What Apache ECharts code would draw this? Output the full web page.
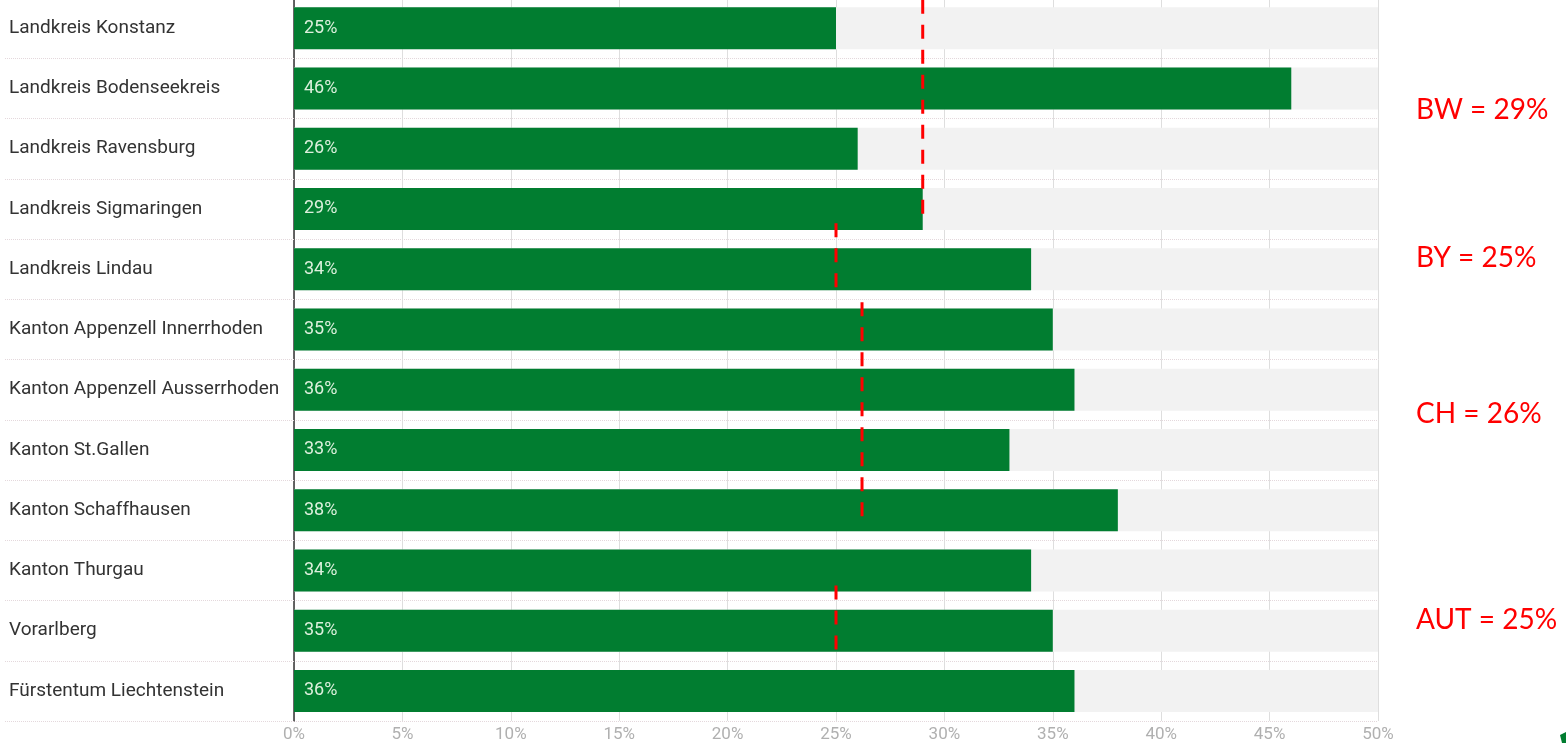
<!DOCTYPE html>
<html>
<head>
<meta charset="utf-8">
<script src="https://cdn.jsdelivr.net/npm/echarts@6/dist/echarts.min.js"></script>
<style>
  html, body { margin: 0; padding: 0; background: #fff; overflow: hidden; }
  #chart { position: absolute; left: 0; top: -2px; width: 1566px; height: 745px; }
</style>
</head>
<body>
<div id="chart"></div>
<script>
// regions, top to bottom
var regions = [
    'Landkreis Konstanz',
    'Landkreis Bodenseekreis',
    'Landkreis Ravensburg',
    'Landkreis Sigmaringen',
    'Landkreis Lindau',
    'Kanton Appenzell Innerrhoden',
    'Kanton Appenzell Ausserrhoden',
    'Kanton St.Gallen',
    'Kanton Schaffhausen',
    'Kanton Thurgau',
    'Vorarlberg',
    'Fürstentum Liechtenstein'
];
var shares = [25, 46, 26, 29, 34, 35, 36, 33, 38, 34, 35, 36];

var xTicks = [0, 5, 10, 15, 20, 25, 30, 35, 40, 45, 50];

// average lines: value and the row span they cover (in row units)
var avgNames = ['BW', 'BY', 'CH', 'AUT'];
var avgValues = [29, 25, 26.2, 25];
var avgLabels = ['29%', '25%', '26%', '25%'];
var avgFrom = [0.03, 3.74, 5.05, 9.75];
var avgTo = [3.71, 4.88, 8.77, 10.88];
var avgTextY = [113, 261, 417, 623];

var chart = echarts.init(document.getElementById('chart'));

var avgSeries = avgNames.map(function (n, i) {
    return {
        name: n,
        type: 'line',
        xAxisIndex: 0,
        yAxisIndex: 1,
        symbol: 'none',
        silent: true,
        z: 5,
        lineStyle: { color: '#ff0000', width: 3, type: [14, 11] },
        data: [[avgValues[i], avgFrom[i]], [avgValues[i], avgTo[i]]]
    };
});

chart.setOption({
    animation: false,
    textStyle: { fontFamily: 'Roboto' },
    grid: { left: 294, right: 188, top: 0, bottom: 21, containLabel: false },
    xAxis: {
        type: 'value',
        min: 0,
        max: 50,
        interval: 5,
        axisLine: { show: false },
        axisTick: { show: false },
        axisLabel: {
            color: '#b0b0b0',
            fontSize: 17,
            margin: 5,
            formatter: function (v) { return xTicks.indexOf(v) >= 0 ? v + '%' : ''; }
        },
        splitLine: { show: true, lineStyle: { color: '#dedede', width: 1 } }
    },
    yAxis: [
        {
            type: 'category',
            data: regions,
            inverse: true,
            axisLine: { show: true, lineStyle: { color: '#333', width: 1.5 } },
            axisTick: {
                show: true,
                inside: false,
                length: 290,
                lineStyle: { color: '#e4d8dc', type: 'dotted', width: 1 }
            },
            splitLine: { show: true, lineStyle: { color: '#e4d8dc', type: 'dotted', width: 1 } },
            axisLabel: {
                color: '#333',
                fontSize: 19,
                align: 'left',
                margin: 285,
                padding: [4, 0, 0, 0]
            }
        },
        {
            type: 'value',
            min: 0,
            max: 12,
            inverse: true,
            show: false
        }
    ],
    series: [
        {
            type: 'bar',
            data: shares,
            barWidth: 42,
            itemStyle: { color: '#017d30' },
            showBackground: true,
            backgroundStyle: { color: '#f2f2f2' },
            label: {
                show: true,
                position: 'insideLeft',
                distance: 10,
                color: '#dcf0dc',
                fontSize: 18,
                padding: [3, 0, 0, 0],
                formatter: '{c}%'
            },
            z: 2
        }
    ].concat(avgSeries),
    graphic: avgNames.map(function (n, i) {
        return {
            type: 'text',
            left: 1416,
            top: avgTextY[i] - 15,
            style: {
                text: n + ' = ' + avgLabels[i],
                fill: '#ff0000',
                font: '28px Lato, "Open Sans", sans-serif'
            }
        };
    }).concat([{
        type: 'polygon',
        shape: { points: [[1560, 737], [1566, 734], [1566, 745], [1562, 745]] },
        style: { fill: '#017d30' }
    }])
});
</script>
</body>
</html>
